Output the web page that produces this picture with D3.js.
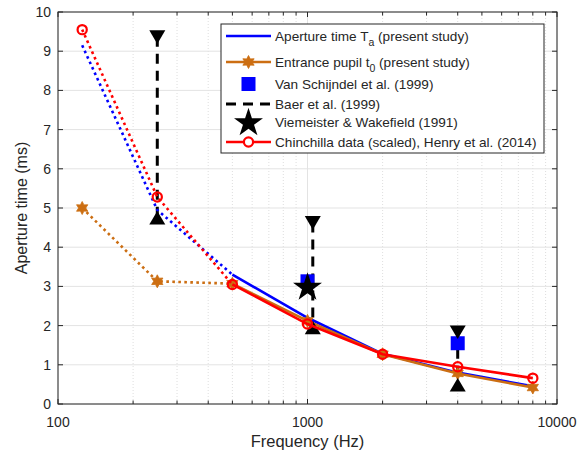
<!DOCTYPE html>
<html>
<head>
<meta charset="utf-8">
<script src="https://cdn.jsdelivr.net/npm/d3@7"></script>
<style>
  body { margin: 0; background: #fff; }
  text { font-family: "Liberation Sans", Arial, sans-serif; fill: #262626; }
</style>
</head>
<body>
<svg id="chart" width="577" height="453"></svg>
<script>
// data
const freqs = [125, 250, 500, 1000, 2000, 4000, 8000];
const apertureTa = [9.15, 4.95, 3.3, 2.2, 1.28, 0.8, 0.45];
const entrancePupil = [5.0, 3.13, 3.07, 2.12, 1.27, 0.78, 0.42];
const chinchilla = [9.55, 5.28, 3.05, 2.04, 1.27, 0.95, 0.66];
const schijndelFreq = [1000, 4000];
const schijndelVal = [3.13, 1.55];
const baerFreq = [250, 1050, 4000];
const baerUpper = [9.37, 4.63, 1.84];
const baerLower = [4.74, 1.94, 0.48];
const viemeisterFreq = [1000];
const viemeisterVal = [3.0];
const yTicks = [0, 1, 2, 3, 4, 5, 6, 7, 8, 9, 10];
const xTicks = [100, 1000, 10000];
const legendLabels = [
  "Aperture time T|a| (present study)",
  "Entrance pupil t|0| (present study)",
  "Van Schijndel et al. (1999)",
  "Baer et al. (1999)",
  "Viemeister & Wakefield (1991)",
  "Chinchilla data (scaled), Henry et al. (2014)"
];

const M = { left: 58, right: 557, top: 12, bottom: 404 };
const AX = "#262626";
const BLUE = "#0000ff", RED = "#ff0000", ORANGE = "#cc6e12";

const svg = d3.select("#chart");
const x = d3.scaleLog().domain([100, 10000]).range([M.left, M.right]);
const y = d3.scaleLinear().domain([0, 10]).range([M.bottom, M.top]);

// grid
const grid = svg.append("g");
const minorX = [];
for (let d = 100; d < 10000; d *= 10) for (let k = 2; k <= 9; k++) minorX.push(d * k);
grid.selectAll(".minx").data(minorX).enter().append("line")
  .attr("x1", d => x(d)).attr("x2", d => x(d))
  .attr("y1", M.top).attr("y2", M.bottom)
  .attr("stroke", "#d6d6d6").attr("stroke-width", 0.8).attr("stroke-dasharray", "1,2");
grid.selectAll(".majx").data(xTicks).enter().append("line")
  .attr("x1", d => x(d)).attr("x2", d => x(d))
  .attr("y1", M.top).attr("y2", M.bottom)
  .attr("stroke", "#e3e3e3").attr("stroke-width", 1);
grid.selectAll(".majy").data(yTicks).enter().append("line")
  .attr("x1", M.left).attr("x2", M.right)
  .attr("y1", d => y(d)).attr("y2", d => y(d))
  .attr("stroke", "#e3e3e3").attr("stroke-width", 1);

// axes (ticks inside, box on all sides)
const tick = 5;
const xAll = xTicks.concat(minorX);
const axes = svg.append("g").attr("stroke", AX);
axes.append("rect").attr("x", M.left).attr("y", M.top)
  .attr("width", M.right - M.left).attr("height", M.bottom - M.top)
  .attr("fill", "none").attr("stroke-width", 1);
axes.selectAll(".xt").data(xAll).enter().append("path")
  .attr("d", d => {
    const l = xTicks.includes(d) ? tick : 3.5;
    return `M${x(d)},${M.bottom}v${-l}M${x(d)},${M.top}v${l}`;
  });
axes.selectAll(".yt").data(yTicks).enter().append("path")
  .attr("d", d => `M${M.left},${y(d)}h${tick}M${M.right},${y(d)}h${-tick}`);

svg.selectAll(".ylab").data(yTicks).enter().append("text")
  .attr("x", M.left - 7).attr("y", d => y(d) + 5)
  .attr("text-anchor", "end").attr("font-size", 14).text(d => d);
svg.selectAll(".xlab").data(xTicks).enter().append("text")
  .attr("x", d => x(d)).attr("y", 427)
  .attr("text-anchor", "middle").attr("font-size", 14).text(d => d);
svg.append("text").attr("x", x(1000)).attr("y", 447)
  .attr("text-anchor", "middle").attr("font-size", 16.5).text("Frequency (Hz)");
svg.append("text").attr("transform", `translate(27,${(M.top + M.bottom) / 2}) rotate(-90)`)
  .attr("text-anchor", "middle").attr("font-size", 16).text("Aperture time (ms)");

const plot = svg.append("g");
const line = d3.line().x(d => x(d[0])).y(d => y(d[1]));

function series(vals, color) {
  const pts = freqs.map((f, i) => [f, vals[i]]);
  plot.append("path").attr("d", line(pts.slice(0, 3)))
    .attr("fill", "none").attr("stroke", color).attr("stroke-width", 2.6)
    .attr("stroke-dasharray", "2.6,3.4");
  plot.append("path").attr("d", line(pts.slice(2)))
    .attr("fill", "none").attr("stroke", color).attr("stroke-width", 2.6);
  return pts;
}

const hexStar = (r) => {
  const p = [];
  for (let i = 0; i < 12; i++) {
    const a = -Math.PI / 2 + i * Math.PI / 6;
    const rr = i % 2 ? r * 0.55 : r;
    p.push([rr * Math.cos(a), rr * Math.sin(a)]);
  }
  return "M" + p.map(q => q.join(",")).join("L") + "Z";
};
const star5 = d3.symbol(d3.symbolStar);
const tri = (r, down) => down
  ? `M${-r},${-r * 0.8}L${r},${-r * 0.8}L0,${r * 0.9}Z`
  : `M${-r},${r * 0.8}L${r},${r * 0.8}L0,${-r * 0.9}Z`;

// Baer et al. (dashed ranges)
baerFreq.forEach((f, i) => {
  plot.append("line").attr("x1", x(f)).attr("x2", x(f))
    .attr("y1", y(baerUpper[i])).attr("y2", y(baerLower[i]))
    .attr("stroke", "#000").attr("stroke-width", 3).attr("stroke-dasharray", "10,7");
});

series(apertureTa, BLUE);
const pupilPts = series(entrancePupil, ORANGE);
plot.selectAll(".hex").data(pupilPts).enter().append("path")
  .attr("transform", d => `translate(${x(d[0])},${y(d[1])})`)
  .attr("d", hexStar(6.5)).attr("fill", ORANGE).attr("stroke", ORANGE).attr("stroke-width", 0.8);

// Van Schijndel squares
plot.selectAll(".sq").data(schijndelFreq).enter().append("rect")
  .attr("x", d => x(d) - 7).attr("y", (d, i) => y(schijndelVal[i]) - 7)
  .attr("width", 14).attr("height", 14).attr("fill", BLUE);

// Baer triangles
baerFreq.forEach((f, i) => {
  plot.append("path").attr("transform", `translate(${x(f)},${y(baerUpper[i])})`)
    .attr("d", tri(8, true)).attr("fill", "#000");
  plot.append("path").attr("transform", `translate(${x(f)},${y(baerLower[i])})`)
    .attr("d", tri(8, false)).attr("fill", "#000");
});

// Viemeister star
plot.selectAll(".st").data(viemeisterFreq).enter().append("path")
  .attr("transform", (d, i) => `translate(${x(d)},${y(viemeisterVal[i]) + 1})`)
  .attr("d", star5.size(260)()).attr("fill", "#000");

const chinPts = series(chinchilla, RED);
plot.selectAll(".circ").data(chinPts).enter().append("circle")
  .attr("cx", d => x(d[0])).attr("cy", d => y(d[1])).attr("r", 4.6)
  .attr("fill", "none").attr("stroke", RED).attr("stroke-width", 2.2);

// legend
const lg = svg.append("g");
lg.append("rect").attr("x", 221).attr("y", 24).attr("width", 323).attr("height", 129)
  .attr("fill", "#fff").attr("stroke", AX).attr("stroke-width", 1);
const rowY = [36, 62, 84, 104, 122, 142];
const lx1 = 226, lx2 = 271, lxm = (lx1 + lx2) / 2;
legendLabels.forEach((lab, i) => {
  const t = lg.append("text").attr("x", 275).attr("y", rowY[i] + 4.8).attr("font-size", 13.6);
  const parts = lab.split("|");
  t.append("tspan").text(parts[0]);
  if (parts.length > 1) {
    t.append("tspan").attr("dy", 5).attr("font-size", 10.5).text(parts[1]);
    t.append("tspan").attr("dy", -5).text(parts[2]);
  }
});
lg.append("line").attr("x1", lx1).attr("x2", lx2).attr("y1", rowY[0]).attr("y2", rowY[0])
  .attr("stroke", BLUE).attr("stroke-width", 2.6);
lg.append("line").attr("x1", lx1).attr("x2", lx2).attr("y1", rowY[1]).attr("y2", rowY[1])
  .attr("stroke", ORANGE).attr("stroke-width", 2.6);
lg.append("path").attr("transform", `translate(${lxm},${rowY[1]})`).attr("d", hexStar(6.5))
  .attr("fill", ORANGE).attr("stroke", ORANGE).attr("stroke-width", 0.8);
lg.append("rect").attr("x", lxm - 7).attr("y", rowY[2] - 7).attr("width", 14).attr("height", 14)
  .attr("fill", BLUE);
lg.append("line").attr("x1", lx1).attr("x2", lx2).attr("y1", rowY[3]).attr("y2", rowY[3])
  .attr("stroke", "#000").attr("stroke-width", 3).attr("stroke-dasharray", "10,7");
lg.append("path").attr("transform", `translate(${lxm},${rowY[4] + 1})`).attr("d", star5.size(260)())
  .attr("fill", "#000");
lg.append("line").attr("x1", lx1).attr("x2", lx2).attr("y1", rowY[5]).attr("y2", rowY[5])
  .attr("stroke", RED).attr("stroke-width", 2.6);
lg.append("circle").attr("cx", lxm).attr("cy", rowY[5]).attr("r", 4.6)
  .attr("fill", "#fff").attr("stroke", RED).attr("stroke-width", 2.2);
</script>
</body>
</html>
